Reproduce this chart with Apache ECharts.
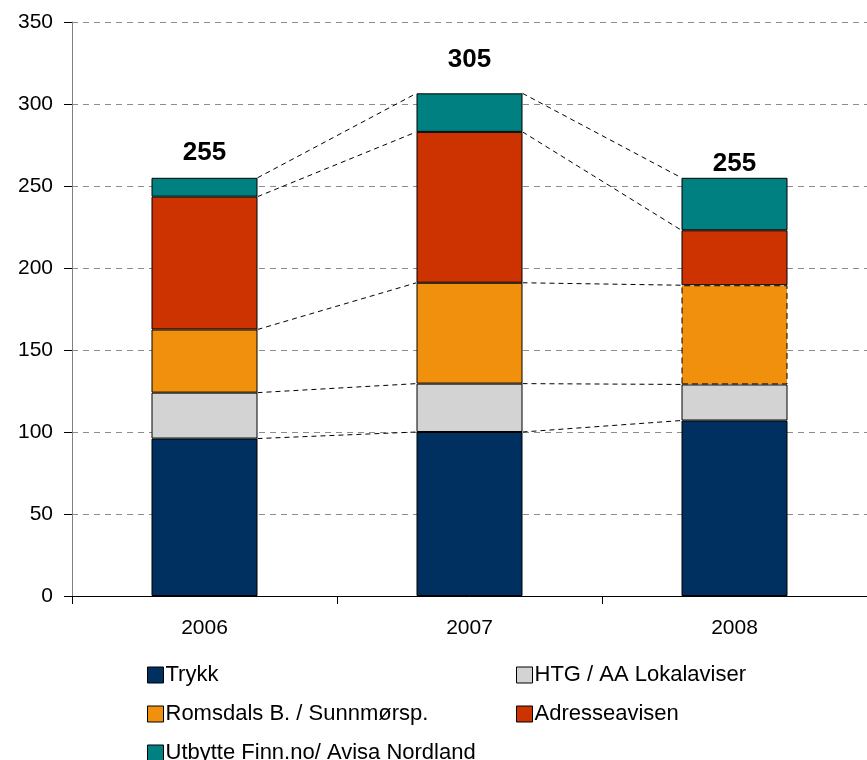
<!DOCTYPE html>
<html>
<head>
<meta charset="utf-8">
<script src="https://cdn.jsdelivr.net/npm/echarts@6/dist/echarts.min.js"></script>
<style>
  html, body { margin: 0; padding: 0; background: #fff; }
  #chart { width: 867px; height: 760px; }
</style>
</head>
<body>
<div id="chart"></div>
<script>
// data
const years = ["2006", "2007", "2008"];
const trykk = [96, 100, 107];
const htg = [28, 29.5, 22];
const romsdals = [38.5, 61.5, 60.5];
const adresse = [81, 92, 33.5];
const utbytte = [11.5, 23.5, 32];
const totals = ["255", "305", "255"];

const seriesNames = [
  "Trykk",
  "HTG / AA Lokalaviser",
  "Romsdals B. / Sunnmørsp.",
  "Adresseavisen",
  "Utbytte Finn.no/ Avisa Nordland",
];
const seriesValues = [trykk, htg, romsdals, adresse, utbytte];
const colors = ["#00305f", "#d3d3d3", "#f0900c", "#cc3300", "#008080"];

const font = "'Liberation Sans', Arial, sans-serif";
const barRatio = 0.4;
const labelGap = [12, 21, 1];

// cumulative tops of each segment, used for the dashed connectors
const cumulative = years.map((_, i) => {
  let sum = 0;
  return seriesValues.map((arr) => (sum += arr[i]));
});
const connectors = [];
for (let i = 0; i < years.length - 1; i++) {
  for (let k = 0; k < seriesValues.length; k++) {
    connectors.push([i, cumulative[i][k], cumulative[i + 1][k]]);
  }
}

const chart = echarts.init(document.getElementById("chart"));

const barSeries = seriesNames.map((name, s) => ({
  name: name,
  type: "bar",
  stack: "total",
  barWidth: barRatio * 100 + "%",
  itemStyle: { color: colors[s], borderColor: "#000", borderWidth: 1 },
  data: seriesValues[s].map((v, i) => {
    // 2008 Romsdals segment is outlined with a dashed border
    if (s === 2 && i === 2) {
      return { value: v, itemStyle: { borderType: [6, 4] } };
    }
    if (s === seriesValues.length - 1) {
      return { value: v, label: { distance: labelGap[i] } };
    }
    return v;
  }),
  label: s === seriesValues.length - 1 ? {
    show: true,
    position: "top",
    fontFamily: font,
    fontSize: 26,
    fontWeight: "bold",
    color: "#000",
    formatter: (p) => totals[p.dataIndex],
  } : { show: false },
  emphasis: { disabled: true },
}));

const legendBase = {
  orient: "vertical",
  top: 664,
  height: 110,
  padding: 0,
  itemWidth: 16,
  itemHeight: 16,
  itemGap: 17,
  icon: "rect",
  itemStyle: { borderColor: "#000", borderWidth: 1 },
  textStyle: { fontFamily: font, fontSize: 22, color: "#000", padding: [0, 0, 0, -3], lineHeight: 20 },
};

const option = {
  animation: false,
  color: colors,
  grid: { left: 72, top: 22, width: 800, bottom: 164, containLabel: false },
  legend: [
    Object.assign({}, legendBase, {
      data: [seriesNames[0], seriesNames[2], seriesNames[4]],
      left: 147,
    }),
    Object.assign({}, legendBase, {
      data: [seriesNames[1], seriesNames[3]],
      left: 516,
    }),
  ],
  xAxis: {
    type: "category",
    data: years,
    axisLine: { lineStyle: { color: "#000", width: 1 } },
    axisTick: { show: true, length: 8, lineStyle: { color: "#000" } },
    axisLabel: { fontFamily: font, fontSize: 21, color: "#000", margin: 22 },
  },
  yAxis: {
    type: "value",
    min: 0,
    max: 350,
    interval: 50,
    axisLine: { show: true, lineStyle: { color: "#808080", width: 1 } },
    axisTick: { show: true, length: 8, lineStyle: { color: "#000" } },
    axisLabel: { fontFamily: font, fontSize: 21, color: "#000", margin: 19 },
    splitLine: { show: true, lineStyle: { color: "#8c8c8c", type: [6, 5], width: 1 } },
  },
  series: barSeries.concat([
    {
      type: "custom",
      name: "connectors",
      z: 5,
      silent: true,
      encode: { x: 0, y: [1, 2] },
      data: connectors,
      renderItem: (params, api) => {
        const i = api.value(0);
        const p1 = api.coord([i, api.value(1)]);
        const p2 = api.coord([i + 1, api.value(2)]);
        const half = (api.size([1, 0])[0] * barRatio) / 2;
        return {
          type: "line",
          shape: { x1: p1[0] + half, y1: p1[1], x2: p2[0] - half, y2: p2[1] },
          style: { stroke: "#000", lineWidth: 1, lineDash: [5, 4] },
        };
      },
    },
  ]),
};

chart.setOption(option);
</script>
</body>
</html>
